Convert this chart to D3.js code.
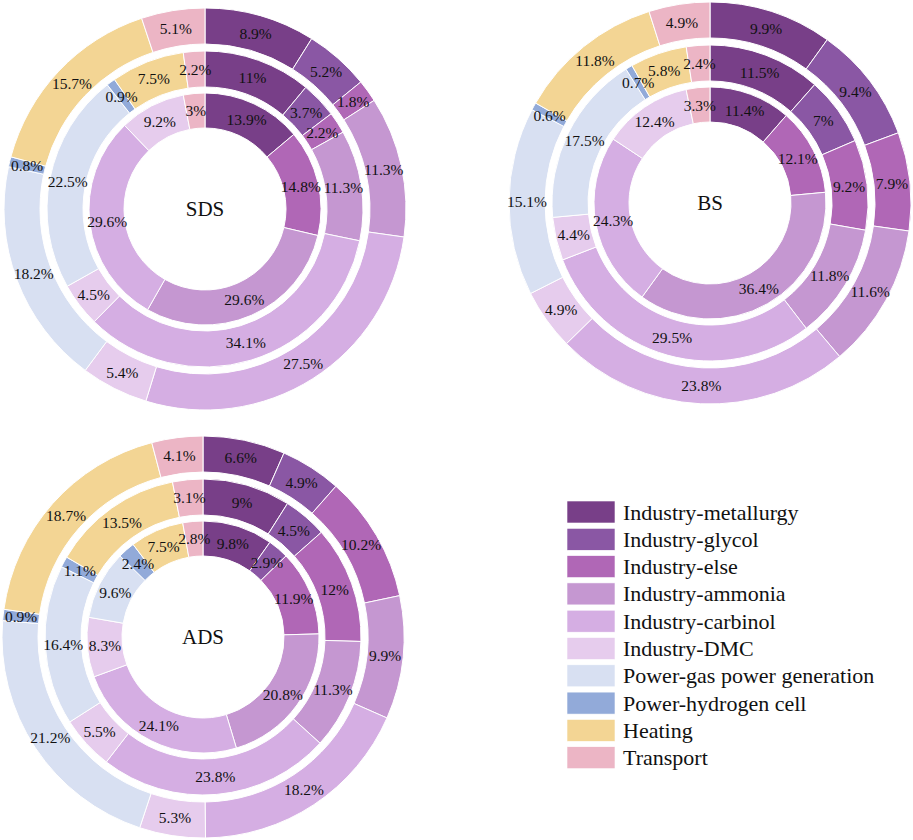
<!DOCTYPE html>
<html lang="en">
<head>
    <meta charset="UTF-8">
    <title>Hydrogen demand structure</title>
    <script src="https://cdn.jsdelivr.net/npm/d3@7"></script>
    <style>
        body { margin: 0; background: #fff; }
        svg text { font-family: "Liberation Serif", "Times New Roman", Times, serif; fill: #111; }
        .arc { stroke: #fff; stroke-width: 1; }
    </style>
</head>
<body>
<script>
    const width = 913;
    const height = 840;

    const categories = ["Industry-metallurgy", "Industry-glycol", "Industry-else", "Industry-ammonia",
        "Industry-carbinol", "Industry-DMC", "Power-gas power generation", "Power-hydrogen cell",
        "Heating", "Transport"];
    const colors = ["#783f88", "#8a57a4", "#b067b6", "#c597d1", "#d5aee3", "#e6cced",
        "#d8e0f2", "#92aad9", "#f3d594", "#ecb5c5"];

    // rings listed inner -> middle -> outer
    const sdsRings = [
        [13.9, 0, 14.8, 29.6, 29.6, 9.2, 0, 0, 0, 3],
        [11, 3.7, 2.2, 11.3, 34.1, 4.5, 22.5, 0.9, 7.5, 2.2],
        [8.9, 5.2, 1.8, 11.3, 27.5, 5.4, 18.2, 0.8, 15.7, 5.1]
    ];
    const bsRings = [
        [11.4, 0, 12.1, 36.4, 24.3, 12.4, 0, 0, 0, 3.3],
        [11.5, 7, 9.2, 11.8, 29.5, 4.4, 17.5, 0.7, 5.8, 2.4],
        [9.9, 9.4, 7.9, 11.6, 23.8, 4.9, 15.1, 0.6, 11.8, 4.9]
    ];
    const adsRings = [
        [9.8, 2.9, 11.9, 20.8, 24.1, 8.3, 9.6, 2.4, 7.5, 2.8],
        [9, 4.5, 12, 11.3, 23.8, 5.5, 16.4, 1.1, 13.5, 3.1],
        [6.6, 4.9, 10.2, 9.9, 18.2, 5.3, 21.2, 0.9, 18.7, 4.1]
    ];

    const charts = [
        {name: "SDS", rings: sdsRings, cx: 205, cy: 209},
        {name: "BS", rings: bsRings, cx: 710, cy: 203},
        {name: "ADS", rings: adsRings, cx: 203, cy: 637}
    ];

    const radii = [[81, 116], [122, 158], [165, 201]];

    const color = d3.scaleOrdinal().domain(categories).range(colors);

    const svg = d3.select("body").append("svg")
            .attr("width", width).attr("height", height);

    const pie = d3.pie().sort(null).value(d => d.v);

    charts.forEach(function(c) {
        const g = svg.append("g").attr("transform", `translate(${c.cx},${c.cy})`);
        c.rings.forEach(function(vals, i) {
            const arc = d3.arc().innerRadius(radii[i][0]).outerRadius(radii[i][1]);
            const data = pie(vals.map((v, k) => ({cat: categories[k], v: v})))
                    .filter(d => d.data.v > 0);
            g.selectAll(null).data(data).enter().append("path")
                    .attr("class", "arc")
                    .attr("d", arc)
                    .attr("fill", d => color(d.data.cat));
            g.selectAll(null).data(data).enter().append("text")
                    .attr("transform", d => `translate(${arc.centroid(d)})`)
                    .attr("text-anchor", "middle")
                    .attr("dominant-baseline", "central")
                    .style("font-size", "15.5px")
                    .text(d => d.data.v + "%");
        });
        g.append("text")
                .attr("text-anchor", "middle")
                .attr("dominant-baseline", "central")
                .style("font-size", "21px")
                .text(c.name);
    });

    // legend
    const legend = svg.append("g").attr("transform", "translate(567,501)");
    const item = legend.selectAll("g").data(categories).enter().append("g")
            .attr("transform", (d, i) => `translate(0,${i * 27.3})`);
    item.append("rect")
            .attr("width", 48).attr("height", 22)
            .attr("fill", d => color(d))
            .attr("stroke", "#fff").attr("stroke-width", 0.6);
    item.append("text")
            .attr("x", 56).attr("y", 11)
            .attr("dominant-baseline", "central")
            .style("font-size", "22px")
            .text(d => d);
</script>
</body>
</html>
